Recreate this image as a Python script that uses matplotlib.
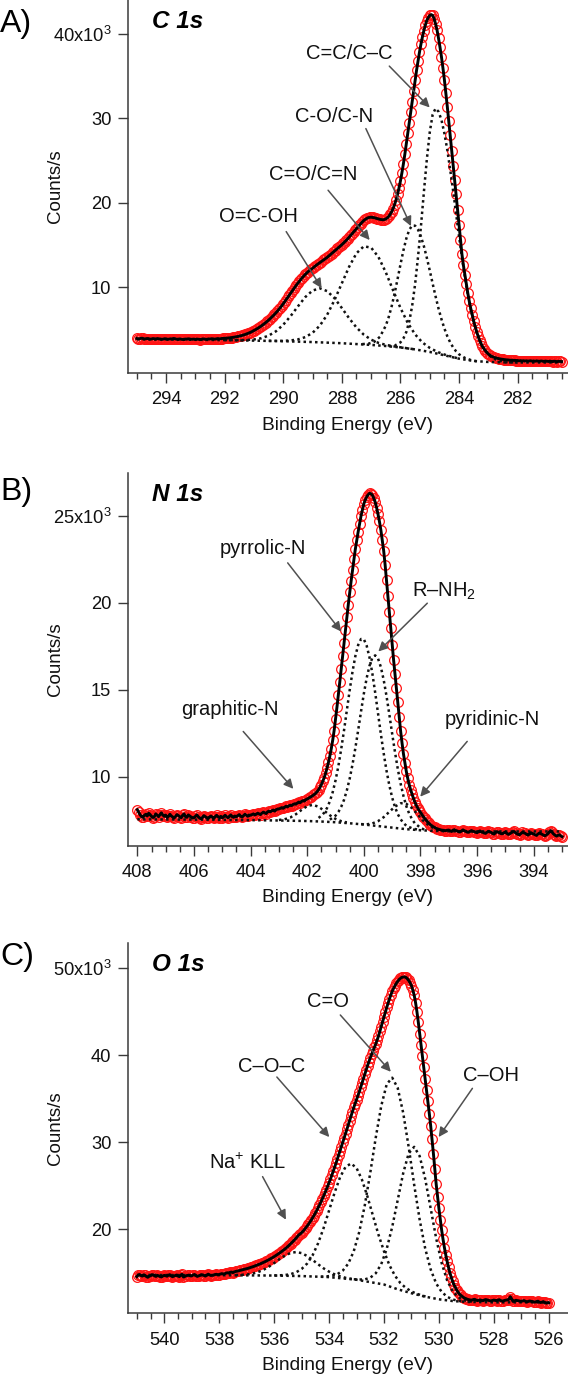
import numpy as np
import matplotlib
matplotlib.use("Agg")
import matplotlib.pyplot as plt

plt.rcParams['font.family'] = ['Liberation Sans', 'DejaVu Sans']
plt.rcParams['mathtext.fontset'] = 'custom'
plt.rcParams['mathtext.rm'] = 'Liberation Sans'
plt.rcParams['mathtext.it'] = 'Liberation Sans:italic'
plt.rcParams['mathtext.bf'] = 'Liberation Sans:bold'

# ---------------- C 1s (counts/s in thousands), 295.0 -> 280.5 eV ----------------
c1s_counts = [
    3.95, 3.90, 3.92, 3.97, 3.96, 3.89, 3.90, 3.94, 3.93, 3.86, 3.88, 3.93, 3.91, 3.87, 3.94, 3.90, 3.89, 3.84, 3.87, 3.91,
    3.90, 3.85, 3.86, 3.90, 3.88, 3.94, 3.92, 3.86, 3.85, 3.89, 3.87, 3.83, 3.84, 3.88, 3.86, 3.90, 3.89, 3.84, 3.85, 3.87,
    3.83, 3.87, 3.86, 3.82, 3.84, 3.89, 3.88, 3.84, 3.85, 3.89, 3.87, 3.91, 3.90, 3.86, 3.88, 3.93, 3.92, 3.90, 3.94, 3.95,
    3.96, 3.97, 3.99, 4.01, 4.03, 4.05, 4.08, 4.11, 4.14, 4.18, 4.22, 4.26, 4.31, 4.36, 4.42, 4.48, 4.55, 4.62, 4.70, 4.79,
    4.88, 4.98, 5.08, 5.19, 5.30, 5.42, 5.55, 5.68, 5.82, 5.97, 6.12, 6.28, 6.45, 6.62, 6.80, 6.99, 7.18, 7.39, 7.60, 7.82,
    8.05, 8.30, 8.55, 8.80, 9.05, 9.30, 9.55, 9.80, 10.05, 10.28, 10.50, 10.73, 10.95, 11.15, 11.35, 11.53, 11.70, 11.86, 12.00, 12.13,
    12.25, 12.40, 12.55, 12.68, 12.80, 12.93, 13.05, 13.18, 13.30, 13.42, 13.55, 13.70, 13.85, 14.00, 14.15, 14.30, 14.45, 14.60, 14.75, 14.90,
    15.05, 15.22, 15.40, 15.57, 15.75, 15.95, 16.15, 16.35, 16.55, 16.75, 16.95, 17.15, 17.35, 17.55, 17.75, 17.92, 18.05, 18.16, 18.25, 18.29,
    18.30, 18.28, 18.25, 18.20, 18.15, 18.10, 18.05, 18.02, 18.00, 18.03, 18.10, 18.22, 18.40, 18.65, 18.95, 19.33, 19.80, 20.35, 21.00, 21.75,
    22.60, 23.55, 24.60, 25.75, 27.00, 28.25, 29.50, 30.75, 32.00, 33.25, 34.50, 35.70, 36.80, 37.85, 38.80, 39.65, 40.40, 41.05, 41.60, 41.95,
    42.20, 42.30, 42.20, 41.80, 41.20, 40.45, 39.50, 38.45, 37.30, 36.00, 34.60, 33.05, 31.40, 29.70, 28.00, 26.20, 24.40, 22.70, 21.00, 19.20,
    17.40, 15.60, 13.90, 12.60, 11.50, 10.35, 9.30, 8.35, 7.50, 6.72, 6.00, 5.35, 4.75, 4.23, 3.75, 3.35, 3.00, 2.73, 2.50, 2.28,
    2.10, 1.97, 1.85, 1.77, 1.70, 1.65, 1.60, 1.56, 1.52, 1.49, 1.46, 1.44, 1.42, 1.40, 1.38, 1.37, 1.36, 1.35, 1.34, 1.33,
    1.33, 1.29, 1.32, 1.28, 1.31, 1.27, 1.30, 1.26, 1.29, 1.30, 1.26, 1.28, 1.25, 1.29, 1.27, 1.24, 1.28, 1.26, 1.23, 1.27,
    1.25, 1.22, 1.26, 1.24, 1.21, 1.25, 1.23, 1.20, 1.24, 1.22, 1.21]
c1s_be = np.linspace(295.0, 280.5, len(c1s_counts))

c1s_bg_be = [295.0, 294.0, 293.0, 292.0, 291.0, 290.0, 289.0, 288.0, 287.0, 286.5,
             286.0, 285.5, 285.0, 284.5, 284.0, 283.5, 283.0, 282.5, 282.0, 281.0, 280.5]
c1s_bg = [3.85, 3.82, 3.79, 3.75, 3.69, 3.62, 3.52, 3.38, 3.18, 3.05,
          2.88, 2.65, 2.35, 1.95, 1.55, 1.28, 1.16, 1.12, 1.10, 1.10, 1.10]

c1s_cc_be = [286.4, 286.2, 286.0, 285.9, 285.8, 285.7, 285.6, 285.5, 285.4, 285.3,
             285.2, 285.1, 285.0, 284.9, 284.8, 284.7, 284.6, 284.5, 284.4, 284.3,
             284.2, 284.1, 284.0, 283.9, 283.8, 283.7, 283.6, 283.5, 283.4, 283.3,
             283.2, 283.1, 283.0, 282.9, 282.8, 282.6, 282.4, 282.0]
c1s_cc = [3.04, 3.09, 3.48, 3.94, 4.70, 5.95, 7.80, 10.35, 13.59, 17.23,
          21.27, 25.11, 28.35, 30.47, 31.19, 30.81, 29.83, 28.25, 26.27, 23.89,
          21.41, 18.73, 16.05, 13.59, 11.23, 9.17, 7.42, 5.98, 4.74, 3.71,
          2.99, 2.47, 2.06, 1.75, 1.54, 1.27, 1.12, 1.10]

c1s_co_be = [287.3, 287.1, 286.9, 286.7, 286.5, 286.4, 286.3, 286.2, 286.1, 286.0,
             285.9, 285.8, 285.7, 285.6, 285.5, 285.4, 285.3, 285.2, 285.1, 285.0,
             284.9, 284.8, 284.7, 284.6, 284.5, 284.4, 284.3, 284.2, 284.1, 284.0,
             283.8, 283.6, 283.4]
c1s_co = [3.28, 3.32, 3.53, 4.14, 5.46, 6.48, 7.75, 9.27, 10.95, 12.69,
          14.35, 15.77, 16.80, 17.33, 17.30, 16.83, 16.01, 14.88, 13.51, 12.01,
          10.44, 8.92, 7.49, 6.23, 5.13, 4.21, 3.47, 2.88, 2.42, 2.07,
          1.64, 1.39, 1.24]

c1s_cdo_be = [290.5, 290.0, 289.75, 289.5, 289.25, 289.0, 288.75, 288.5, 288.25, 288.0,
              287.75, 287.5, 287.25, 287.0, 286.75, 286.5, 286.25, 286.0, 285.75, 285.5,
              285.25, 285.0, 284.75, 284.5, 284.0]
c1s_cdo = [3.66, 3.66, 3.71, 3.83, 4.10, 4.61, 5.47, 6.76, 8.50, 10.48,
           12.45, 14.04, 14.86, 14.70, 13.59, 11.78, 9.64, 7.56, 5.79, 4.43,
           3.47, 2.83, 2.37, 2.04, 1.55]

c1s_cooh_be = [292.0, 291.75, 291.5, 291.25, 291.0, 290.75, 290.5, 290.25, 290.0, 289.75,
               289.5, 289.25, 289.0, 288.75, 288.5, 288.25, 288.0, 287.75, 287.5, 287.25,
               287.0, 286.75, 286.5, 286.25, 286.0, 285.5]
c1s_cooh = [3.75, 3.75, 3.74, 3.76, 3.83, 3.97, 4.28, 4.79, 5.57, 6.59,
            7.74, 8.84, 9.62, 9.88, 9.55, 8.71, 7.55, 6.33, 5.24, 4.39,
            3.80, 3.42, 3.19, 3.02, 2.90, 2.65]

# ---------------- N 1s, 408.0 -> 393.0 eV ----------------
n1s_counts = [
    8.10, 7.95, 7.80, 7.70, 7.66, 7.78, 7.84, 7.74, 7.90, 7.82, 7.72, 7.65, 7.70, 7.86, 7.78, 7.70, 7.82, 7.92, 7.80, 7.72,
    7.79, 7.66, 7.72, 7.84, 7.74, 7.68, 7.62, 7.72, 7.82, 7.76, 7.70, 7.64, 7.78, 7.86, 7.70, 7.66, 7.80, 7.74, 7.68, 7.62,
    7.64, 7.72, 7.80, 7.70, 7.62, 7.58, 7.66, 7.76, 7.70, 7.64, 7.60, 7.68, 7.74, 7.66, 7.60, 7.70, 7.78, 7.70, 7.64, 7.72,
    7.63, 7.70, 7.78, 7.70, 7.64, 7.72, 7.80, 7.70, 7.66, 7.74, 7.70, 7.76, 7.82, 7.72, 7.68, 7.76, 7.84, 7.78, 7.72, 7.80,
    7.78, 7.82, 7.86, 7.80, 7.84, 7.90, 7.86, 7.82, 7.90, 7.96, 7.92, 7.88, 7.98, 8.02, 7.98, 8.04, 8.08, 8.02, 8.10, 8.14,
    8.14, 8.18, 8.22, 8.18, 8.24, 8.30, 8.26, 8.32, 8.36, 8.34, 8.40, 8.44, 8.42, 8.48, 8.54, 8.50, 8.58, 8.62, 8.60, 8.68,
    8.72, 8.76, 8.82, 8.86, 8.92, 8.98, 9.05, 9.14, 9.25, 9.38, 9.55, 9.74, 9.95, 10.20, 10.50, 10.83, 11.20, 11.62, 12.10, 12.65,
    13.30, 14.00, 14.70, 15.45, 16.20, 16.95, 17.70, 18.45, 19.20, 19.90, 20.60, 21.25, 21.90, 22.50, 23.10, 23.60, 24.10, 24.55, 25.00, 25.35,
    25.70, 25.92, 26.10, 26.22, 26.30, 26.28, 26.20, 26.02, 25.80, 25.48, 25.10, 24.68, 24.20, 23.62, 23.00, 22.20, 21.30, 20.42, 19.50, 18.55,
    17.60, 16.72, 15.90, 15.08, 14.30, 13.42, 12.60, 11.92, 11.30, 10.78, 10.30, 9.90, 9.55, 9.26, 9.00, 8.76, 8.55, 8.36, 8.20, 8.06,
    7.95, 7.82, 7.70, 7.60, 7.50, 7.40, 7.32, 7.24, 7.18, 7.12, 7.08, 7.03, 7.00, 6.97, 6.95, 6.92, 6.92, 6.90, 6.90, 6.92,
    6.93, 6.88, 6.85, 6.92, 6.95, 6.90, 6.88, 6.83, 6.82, 6.88, 6.94, 6.89, 6.86, 6.81, 6.80, 6.86, 6.90, 6.86, 6.84, 6.80,
    6.78, 6.84, 6.88, 6.82, 6.80, 6.76, 6.74, 6.80, 6.86, 6.82, 6.79, 6.73, 6.70, 6.78, 6.84, 6.80, 6.76, 6.72, 6.72, 6.78,
    6.82, 6.74, 6.68, 6.72, 6.76, 6.82, 6.85, 6.78, 6.72, 6.68, 6.66, 6.73, 6.80, 6.77, 6.74, 6.68, 6.64, 6.71, 6.78, 6.73,
    6.70, 6.66, 6.62, 6.70, 6.76, 6.72, 6.68, 6.63, 6.60, 6.66, 6.72, 6.82, 6.90, 6.80, 6.70, 6.64, 6.58, 6.62, 6.66, 6.60,
    6.55]
n1s_be = np.linspace(408.0, 393.0, len(n1s_counts))

n1s_bg_be = [408.0, 406.0, 404.0, 403.0, 402.0, 401.5, 401.0, 400.5, 400.0, 399.5,
             399.0, 398.5, 398.0, 397.5, 397.0, 395.0, 393.0]
n1s_bg = [7.55, 7.53, 7.50, 7.48, 7.45, 7.42, 7.38, 7.32, 7.25, 7.16,
          7.07, 6.98, 6.92, 6.88, 6.86, 6.85, 6.85]

n1s_graph = [7.51, 7.55, 7.65, 7.84, 8.09, 8.31, 8.38, 8.27, 8.04, 7.78, 7.57, 7.44, 7.37]
n1s_graph_be = np.linspace(403.0, 400.6, len(n1s_graph))

n1s_pyrr = [7.63, 7.75, 7.93, 8.20, 8.59, 9.11, 9.79, 10.61, 11.59, 12.67,
            13.83, 14.98, 16.05, 16.94, 17.58, 17.92, 17.91, 17.53, 16.86, 15.94,
            14.84, 13.65, 12.46, 11.35, 10.35, 9.50, 8.80, 8.25, 7.84, 7.55,
            7.33, 7.18, 7.03, 6.92]
n1s_pyrr_be = list(np.linspace(401.6, 398.5, 32)) + [398.3, 398.0]

n1s_nh2 = [7.53, 7.76, 7.97, 8.27, 8.67, 9.22, 9.89, 10.71, 11.65, 12.68,
           13.75, 14.78, 15.68, 16.38, 16.84, 16.98, 16.80, 16.31, 15.57, 14.64,
           13.58, 12.47, 11.41, 10.43, 9.59, 8.88, 8.30, 7.88, 7.56, 7.32,
           7.06, 6.90]
n1s_nh2_be = [401.2, 401.0] + list(np.linspace(400.9, 398.2, 28)) + [398.0, 397.8]

n1s_pyrid_be = [400.1, 399.9, 399.7, 399.5, 399.3, 399.1, 398.9, 398.7, 398.6, 398.5,
                398.3, 398.1, 397.9, 397.7, 397.5, 397.3, 397.1]
n1s_pyrid = [7.27, 7.26, 7.31, 7.44, 7.67, 7.98, 8.28, 8.47, 8.48, 8.44,
             8.19, 7.83, 7.46, 7.19, 7.01, 6.92, 6.86]

# ---------------- O 1s, 541.0 -> 526.0 eV ----------------
o1s_counts = [
    14.55, 14.72, 14.80, 14.68, 14.62, 14.74, 14.70, 14.56, 14.48, 14.60, 14.66, 14.78, 14.75, 14.64, 14.58, 14.70, 14.64, 14.56, 14.52, 14.62,
    14.70, 14.66, 14.60, 14.72, 14.78, 14.64, 14.55, 14.62, 14.68, 14.74, 14.62, 14.56, 14.74, 14.82, 14.50, 14.58, 14.66, 14.70, 14.72, 14.64,
    14.64, 14.74, 14.80, 14.68, 14.58, 14.64, 14.70, 14.78, 14.76, 14.68, 14.62, 14.74, 14.84, 14.76, 14.68, 14.72, 14.74, 14.80, 14.82, 14.78,
    14.80, 14.86, 14.90, 14.84, 14.88, 14.96, 15.00, 14.96, 15.05, 15.08, 15.02, 15.10, 15.15, 15.18, 15.22, 15.26, 15.30, 15.34, 15.38, 15.42,
    15.46, 15.51, 15.56, 15.61, 15.66, 15.72, 15.78, 15.84, 15.90, 15.96, 16.03, 16.10, 16.17, 16.24, 16.32, 16.40, 16.48, 16.57, 16.66, 16.75,
    16.85, 16.95, 17.05, 17.16, 17.27, 17.38, 17.50, 17.62, 17.75, 17.88, 18.02, 18.17, 18.32, 18.48, 18.64, 18.81, 18.98, 19.16, 19.35, 19.47,
    19.60, 19.77, 19.95, 20.15, 20.35, 20.57, 20.80, 21.05, 21.30, 21.57, 21.85, 22.15, 22.45, 22.77, 23.10, 23.45, 23.80, 24.17, 24.55, 24.95,
    25.35, 25.77, 26.20, 26.65, 27.10, 27.57, 28.05, 28.52, 29.00, 29.50, 30.00, 30.50, 31.00, 31.50, 32.00, 32.50, 33.00, 33.50, 34.00, 34.45,
    34.90, 35.35, 35.80, 36.30, 36.80, 37.30, 37.80, 38.30, 38.80, 39.25, 39.70, 40.10, 40.50, 40.90, 41.30, 41.75, 42.20, 42.75, 43.30, 43.85,
    44.40, 44.95, 45.50, 46.00, 46.50, 46.95, 47.35, 47.70, 48.00, 48.27, 48.50, 48.70, 48.85, 48.95, 49.00, 49.00, 48.95, 48.80, 48.60, 48.33,
    48.00, 47.50, 46.90, 46.05, 45.00, 43.80, 42.50, 41.20, 39.90, 38.60, 37.30, 36.00, 34.70, 33.30, 31.90, 30.35, 28.70, 26.95, 25.20, 23.75,
    22.40, 21.10, 19.90, 18.85, 17.90, 17.05, 16.30, 15.62, 15.00, 14.47, 14.00, 13.62, 13.30, 13.00, 12.75, 12.55, 12.40, 12.27, 12.15, 12.07,
    12.00, 11.94, 11.90, 11.86, 11.85, 11.92, 11.95, 11.86, 11.80, 11.84, 11.88, 11.82, 11.78, 11.86, 11.92, 11.88, 11.84, 11.78, 11.76, 11.82,
    11.86, 11.82, 11.80, 11.86, 11.90, 11.80, 11.74, 11.78, 11.82, 11.86, 11.88, 11.96, 12.25, 11.98, 11.70, 11.76, 11.84, 11.80, 11.78, 11.74,
    11.72, 11.76, 11.80, 11.72, 11.66, 11.70, 11.76, 11.72, 11.70, 11.65, 11.62, 11.68, 11.74, 11.64, 11.58, 11.62, 11.68, 11.60, 11.50, 11.56,
    11.55]
o1s_be = np.linspace(541.0, 526.0, len(o1s_counts))

o1s_bg_be = [541.0, 538.0, 536.0, 535.0, 534.0, 533.0, 532.0, 531.5, 531.0, 530.5,
             530.0, 529.5, 529.0, 528.0, 526.0]
o1s_bg = [14.75, 14.72, 14.68, 14.62, 14.50, 14.20, 13.65, 13.10, 12.65, 12.25,
          11.95, 11.75, 11.65, 11.60, 11.60]

o1s_na = [14.73, 14.76, 14.80, 14.90, 15.06, 15.32, 15.67, 16.11, 16.58, 16.98,
          17.28, 17.38, 17.26, 16.93, 16.48, 15.98, 15.51, 15.13, 14.82, 14.59,
          14.42, 14.31, 14.22]
o1s_na_be = np.linspace(537.4, 533.0, len(o1s_na))

o1s_coc = [14.69, 14.71, 14.74, 14.84, 15.05, 15.43, 16.05, 17.00, 18.38, 20.12,
           22.15, 24.19, 25.97, 27.17, 27.56, 27.05, 25.68, 23.74, 21.54, 19.37,
           17.48, 15.86, 14.66, 13.80, 13.25, 12.85, 12.58, 12.37, 12.20]
o1s_coc_be = np.linspace(536.0, 530.4, len(o1s_coc))

o1s_cdo = [14.55, 14.58, 14.65, 14.83, 15.25, 16.05, 17.48, 19.69, 22.73, 26.48,
           30.53, 34.17, 36.68, 37.42, 36.24, 33.37, 29.44, 25.10, 21.09, 17.80,
           15.38, 13.77, 12.80, 12.24, 11.93, 11.78, 11.69]
o1s_cdo_be = np.linspace(534.3, 529.1, len(o1s_cdo))

o1s_coh = [14.25, 14.22, 14.24, 14.43, 14.94, 15.99, 17.75, 20.27, 23.36, 26.45,
           28.73, 29.47, 28.40, 25.80, 22.39, 18.96, 16.12, 14.11, 12.87, 12.19,
           11.86, 11.71, 11.64]
o1s_coh_be = np.linspace(533.1, 528.7, len(o1s_coh))

# ---------------- tick labels / annotations ----------------
c1s_yticks = [10, 20, 30, 40]
c1s_yticklabels = ['10', '20', '30', '40x10$^{3}$']
n1s_yticks = [10, 15, 20, 25]
n1s_yticklabels = ['10', '15', '20', '25x10$^{3}$']
o1s_yticks = [20, 30, 40, 50]
o1s_yticklabels = ['20', '30', '40', '50x10$^{3}$']

c1s_labels = ['C=C/C\u2013C', 'C-O/C-N', 'C=O/C=N', 'O=C-OH']
c1s_label_xy = [(287.76, 37.75), (288.27, 30.2), (288.99, 23.4), (290.84, 18.4)]
c1s_arrow_tail = [(286.38, 36.2), (287.18, 28.8), (288.47, 21.5), (289.90, 16.6)]
c1s_arrow_tip = [(285.0, 31.3), (285.64, 17.25), (287.05, 15.6), (288.69, 9.9)]

n1s_labels = ['pyrrolic-N', 'R\u2013NH$_2$', 'graphitic-N', 'pyridinic-N']
n1s_label_xy = [(403.55, 23.14), (397.15, 20.65), (404.72, 13.85), (395.48, 13.28)]
n1s_arrow_tail = [(402.69, 22.3), (397.76, 19.98), (404.26, 12.6), (396.35, 12.03)]
n1s_arrow_tip = [(400.80, 18.35), (399.49, 17.2), (402.49, 9.3), (398.01, 8.85)]

o1s_labels = ['C=O', 'C\u2013O\u2013C', 'C\u2013OH', 'Na$^{+}$ KLL']
o1s_label_xy = [(534.05, 46.16), (536.10, 38.7), (528.10, 37.7), (536.96, 27.65)]
o1s_arrow_tail = [(533.59, 44.63), (535.90, 37.5), (528.78, 36.2), (536.42, 26.05)]
o1s_arrow_tip = [(531.75, 38.1), (533.99, 30.6), (530.01, 30.6), (535.57, 21.1)]

# ---------------- figure ----------------
W, H = 568, 1378
fig = plt.figure(figsize=(W / 100, H / 100), dpi=100)
axis_color = '#3a3a3a'
arrow_color = '#505050'


def px_rect(left, top, right, bottom):
    return [left / W, 1 - bottom / H, (right - left) / W, (bottom - top) / H]


panels = [
    dict(rect=px_rect(128, 0, 568, 372.7), xlim=(295.3, 280.28), ylim=(-0.11, 44.03),
         xmajor=np.arange(294, 281, -2), xminor=np.arange(295.0, 280.4, -0.5),
         yt=c1s_yticks, ytl=c1s_yticklabels, x=c1s_be, y=c1s_counts,
         comps=[(c1s_bg_be, c1s_bg), (c1s_cc_be, c1s_cc), (c1s_co_be, c1s_co),
                (c1s_cdo_be, c1s_cdo), (c1s_cooh_be, c1s_cooh)],
         labels=c1s_labels, lxy=c1s_label_xy, tail=c1s_arrow_tail, tip=c1s_arrow_tip,
         title='C 1s', tag='A)', tag_y=24, xlabel_y=425),
    dict(rect=px_rect(128, 473, 568, 845.7), xlim=(408.33, 392.79), ylim=(6.03, 27.47),
         xmajor=np.arange(408, 393, -2), xminor=np.arange(408.0, 392.9, -0.5),
         yt=n1s_yticks, ytl=n1s_yticklabels, x=n1s_be, y=n1s_counts,
         comps=[(n1s_bg_be, n1s_bg), (n1s_graph_be, n1s_graph), (n1s_pyrr_be, n1s_pyrr),
                (n1s_nh2_be, n1s_nh2), (n1s_pyrid_be, n1s_pyrid)],
         labels=n1s_labels, lxy=n1s_label_xy, tail=n1s_arrow_tail, tip=n1s_arrow_tip,
         title='N 1s', tag='B)', tag_y=492, xlabel_y=898),
    dict(rect=px_rect(128, 942.7, 568, 1313.3), xlim=(541.32, 525.3), ylim=(10.34, 52.94),
         xmajor=np.arange(540, 525, -2), xminor=np.arange(541.0, 525.9, -0.5),
         yt=o1s_yticks, ytl=o1s_yticklabels, x=o1s_be, y=o1s_counts,
         comps=[(o1s_bg_be, o1s_bg), (o1s_na_be, o1s_na), (o1s_coc_be, o1s_coc),
                (o1s_cdo_be, o1s_cdo), (o1s_coh_be, o1s_coh)],
         labels=o1s_labels, lxy=o1s_label_xy, tail=o1s_arrow_tail, tip=o1s_arrow_tip,
         title='O 1s', tag='C)', tag_y=957, xlabel_y=1366),
]

for p in panels:
    ax = fig.add_axes(p['rect'])
    ax.patch.set_alpha(0)
    ax.plot(p['x'], p['y'], linestyle='none', marker='o', markersize=7.0,
            markerfacecolor='none', markeredgecolor='#ff1414', markeredgewidth=0.9,
            zorder=2, clip_on=False)
    for cx, cy in p['comps']:
        ax.plot(cx, cy, color='#111111', linestyle=(0, (1.0, 1.3)), linewidth=1.8, zorder=3)
    ax.plot(p['x'], p['y'], color='black', linewidth=2.1, zorder=4)

    ax.set_xlim(*p['xlim'])
    ax.set_ylim(*p['ylim'])
    for s in ['top', 'right']:
        ax.spines[s].set_visible(False)
    for s in ['left', 'bottom']:
        ax.spines[s].set_color(axis_color)
        ax.spines[s].set_linewidth(1.1)
    ax.set_xticks(p['xmajor'])
    ax.set_xticks([v for v in p['xminor'] if abs(v - round(v / 2) * 2) > 1e-6], minor=True)
    ax.set_xticklabels([str(int(v)) for v in p['xmajor']])
    ax.set_yticks(p['yt'])
    ax.set_yticklabels(p['ytl'])
    ax.tick_params(axis='x', which='major', length=7.5, width=1.0, color=axis_color,
                   labelsize=13.2, pad=6, labelcolor='#111111')
    ax.tick_params(axis='x', which='minor', length=4.0, width=1.0, color=axis_color)
    ax.tick_params(axis='y', which='major', length=7.5, width=1.0, color=axis_color,
                   labelsize=13.2, pad=4.5, labelcolor='#111111')

    for lab, lxy, tl, tp in zip(p['labels'], p['lxy'], p['tail'], p['tip']):
        ax.text(lxy[0], lxy[1], lab, fontsize=14.5, ha='center', va='center',
                color='#111111', zorder=6)
        ax.annotate('', xy=tp, xytext=tl,
                    arrowprops=dict(arrowstyle='-|>', color=arrow_color, lw=1.1,
                                    mutation_scale=14, shrinkA=0, shrinkB=0),
                    zorder=6)

    ax.text(24 / 440, 1 - 22 / 372.7, p['title'], transform=ax.transAxes,
            fontsize=17.5, fontweight='bold', fontstyle='italic', ha='left', va='center')

    top_px = (1 - p['rect'][1] - p['rect'][3]) * H
    bot_px = (1 - p['rect'][1]) * H
    fig.text(56 / W, 1 - (top_px + bot_px) / 2 / H, 'Counts/s', rotation=90,
             fontsize=13.5, ha='center', va='center', color='#111111')
    fig.text(348 / W, 1 - p['xlabel_y'] / H, 'Binding Energy (eV)', fontsize=13.8,
             ha='center', va='center', color='#111111')
    fig.text(0.0, 1 - p['tag_y'] / H, p['tag'], fontsize=23, ha='left', va='center')

fig.savefig('out.png', dpi=100)
